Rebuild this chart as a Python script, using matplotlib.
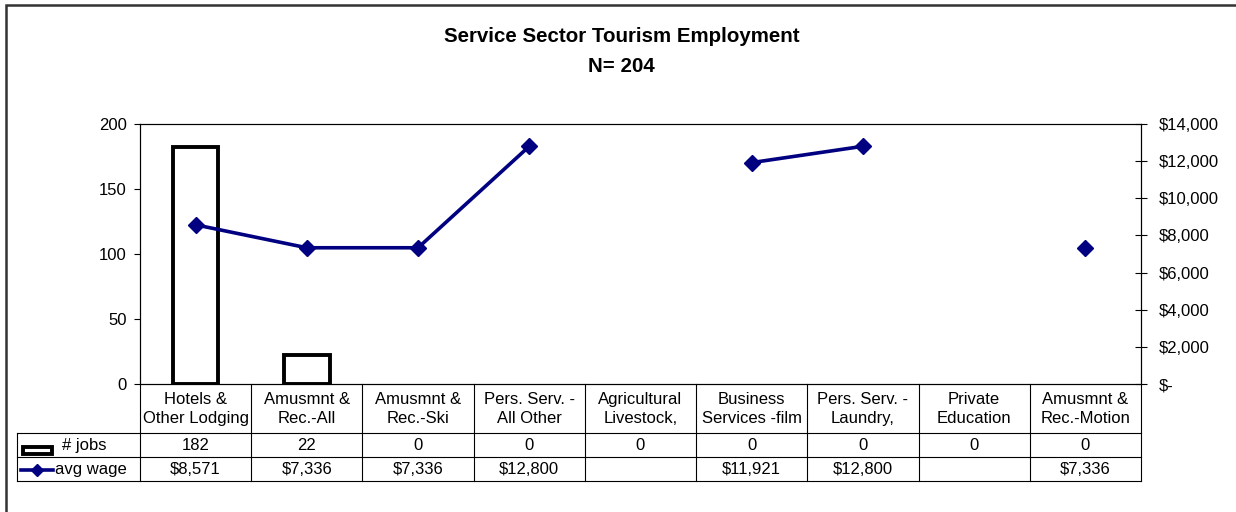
import numpy as np
import matplotlib
matplotlib.use('Agg')
import matplotlib.pyplot as plt
import matplotlib.transforms as mtransforms
from matplotlib.patches import Rectangle
from matplotlib.lines import Line2D
from matplotlib.ticker import FuncFormatter, MultipleLocator

plt.rcParams['font.family'] = ['Liberation Sans', 'DejaVu Sans']

# data
categories = ['Hotels &\nOther Lodging', 'Amusmnt &\nRec.-All', 'Amusmnt &\nRec.-Ski',
              'Pers. Serv. -\nAll Other', 'Agricultural\nLivestock,', 'Business\nServices -film',
              'Pers. Serv. -\nLaundry,', 'Private\nEducation', 'Amusmnt &\nRec.-Motion']
jobs = [182, 22, 0, 0, 0, 0, 0, 0, 0]
avg_wage = [8571, 7336, 7336, 12800, None, 11921, 12800, None, 7336]
series_names = ['# jobs', 'avg wage']
title = 'Service Sector Tourism Employment'
n_total = 204

navy = '#000080'
W, H = 1236, 512
fig = plt.figure(figsize=(W/100, H/100), dpi=100)

# plot box in pixels: x 140..1141, y 124..384
ax = fig.add_axes([140/W, 1-384/H, (1141-140)/W, (384-124)/H])
x = np.arange(len(categories))
wage = np.array([np.nan if v is None else v for v in avg_wage], dtype=float)

ax.bar(x, jobs, width=0.41, facecolor='white', edgecolor='black',
       linewidth=[2.8 if v else 0 for v in jobs], joinstyle='miter', zorder=2)
ax.set_xlim(-0.5, len(categories)-0.5)
ax.set_ylim(0, 200)
ax.yaxis.set_major_locator(MultipleLocator(50))
ax.set_xticks([])
ax.tick_params(axis='y', direction='out', length=4.5, width=0.8, pad=5, labelsize=12)
for s in ax.spines.values():
  s.set_linewidth(0.8); s.set_color('black')

ax2 = ax.twinx()
ax2.plot(x, wage, color=navy, lw=2.6, marker='D', ms=8, zorder=3)
ax2.set_ylim(0, 14000)
ax2.yaxis.set_major_locator(MultipleLocator(2000))
ax2.yaxis.set_major_formatter(FuncFormatter(lambda v, p: '$-' if v == 0 else '${:,.0f}'.format(v)))
ax2.tick_params(axis='y', direction='inout', length=8, width=0.8, pad=9, labelsize=12)
for s in ax2.spines.values():
  s.set_linewidth(0.8); s.set_color('black')

fig.text(0.503, 1-37/H, title, ha='center', va='center', fontsize=14.8, fontweight='bold')
fig.text(0.503, 1-66/H, 'N= %d' % n_total, ha='center', va='center', fontsize=14.8, fontweight='bold')

# data table under the axis
blend = mtransforms.blended_transform_factory(ax.transData, ax.transAxes)
colw = (1141-140)/len(categories)
def yax(py):
  return (384-py)/(384-124)
def xd(px):
  return -0.5 - (140-px)/colw

xl = xd(17)
xr = len(categories)-0.5
lk = dict(color='black', lw=0.8, transform=blend, clip_on=False)
for k in range(len(categories)+1):
  ax.add_line(Line2D([k-0.5, k-0.5], [0, yax(481)], **lk))
ax.add_line(Line2D([xl, xl], [yax(433), yax(481)], **lk))
for py in (433, 457, 481):
  ax.add_line(Line2D([xl, xr], [yax(py), yax(py)], **lk))

for i, c in enumerate(categories):
  ax.text(i, yax(409), c, ha='center', va='center', transform=blend, fontsize=12, linespacing=1.3)
  ax.text(i, yax(445.5), str(jobs[i]), ha='center', va='center', transform=blend, fontsize=12)
  if avg_wage[i] is not None:
    ax.text(i, yax(469.5), '${:,}'.format(avg_wage[i]), ha='center', va='center', transform=blend, fontsize=12)

# row labels with legend keys
ax.add_patch(Rectangle((xd(23), yax(454)), xd(52)-xd(23), yax(447)-yax(454), transform=blend,
                       clip_on=False, facecolor='white', edgecolor='black', lw=2.8, joinstyle='miter'))
ax.text(xd(62), yax(445.5), series_names[0], ha='left', va='center', transform=blend, fontsize=12)
ax.add_line(Line2D([xd(21), xd(53)], [yax(469.5)]*2, color=navy, lw=2.6, transform=blend, clip_on=False))
ax.add_line(Line2D([xd(37)], [yax(469.5)], color=navy, marker='D', ms=6.5, transform=blend, clip_on=False))
ax.text(xd(55), yax(469.5), series_names[1], ha='left', va='center', transform=blend, fontsize=12)

# outer chart frame (only top and left edges fall inside the picture)
fig.add_artist(Rectangle((6/W, -0.1), 1.2, 1.1-5/H, transform=fig.transFigure,
                         fill=False, edgecolor='#333333', lw=1.8))

fig.savefig('out.png', dpi=100)
